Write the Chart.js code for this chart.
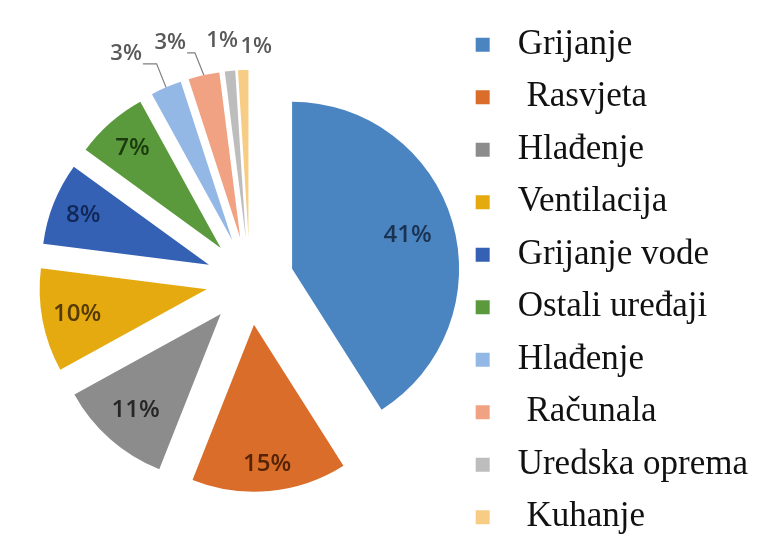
<!DOCTYPE html>
<html>
<head>
<meta charset="utf-8">
<script src="https://cdn.jsdelivr.net/npm/chart.js@4.4.1/dist/chart.umd.min.js"></script>
<style>
  html, body { margin: 0; padding: 0; background: #fff; }
  #wrap { width: 763px; height: 535px; overflow: hidden; }
</style>
</head>
<body>
<div id="wrap"><canvas id="potrosnja" width="763" height="564"></canvas></div>
<script>
// udjeli potrosnje energije po namjeni (%)
const categories = ['Grijanje', ' Rasvjeta', 'Hlađenje', 'Ventilacija', 'Grijanje vode',
    'Ostali uređaji', 'Hlađenje', ' Računala', 'Uredska oprema', ' Kuhanje'];
const shares = [41, 15, 11, 10, 8, 7, 3, 3, 1, 1];

const sliceColors = ['#4b85c1', '#d96d29', '#8c8c8c', '#e4aa10', '#3461b4',
    '#5a9a3c', '#93b8e6', '#f0a282', '#bdbdbd', '#f7cc85'];
const labelColors = ['#1a3352', '#552405', '#262626', '#553b00', '#112858', '#1b3b0f'];

const EXPLODE = 44;
// polozaj natpisa unutar isjecka (udio radijusa)
const insideAt = [0.72, 0.84, 0.77, 0.79, 0.81, 0.8];
// pomak vanjskih natpisa [dx, dy]
const outsideNudge = [[-28, -6], [-27, -3], [-5, 0], [14, 7]];

const explode = {
    id: 'explode',
    afterDatasetUpdate(chart, args) {
        args.meta.data.forEach((arc) => {
            const mid = (arc.startAngle + arc.endAngle) / 2;
            arc.x += Math.cos(mid) * EXPLODE;
            arc.y += Math.sin(mid) * EXPLODE;
        });
    },
};

const sliceLabels = {
    id: 'sliceLabels',
    afterDatasetsDraw(chart) {
        const ctx = chart.ctx;
        const arcs = chart.getDatasetMeta(0).data;
        ctx.save();
        ctx.textAlign = 'center';
        ctx.textBaseline = 'middle';
        arcs.forEach((arc, i) => {
            const mid = (arc.startAngle + arc.endAngle) / 2;
            const cos = Math.cos(mid);
            const sin = Math.sin(mid);
            const text = shares[i] + '%';
            if (i < insideAt.length) {
                const r = arc.outerRadius * insideAt[i];
                ctx.font = '600 24px "Open Sans"';
                ctx.fillStyle = labelColors[i];
                ctx.fillText(text, arc.x + cos * r, arc.y + sin * r);
                return;
            }
            const k = i - insideAt.length;
            const tipX = arc.x + cos * arc.outerRadius;
            const tipY = arc.y + sin * arc.outerRadius;
            const lx = arc.x + cos * (arc.outerRadius + 30) + outsideNudge[k][0];
            const ly = arc.y + sin * (arc.outerRadius + 30) + outsideNudge[k][1];
            ctx.font = '600 22px "Open Sans"';
            ctx.fillStyle = '#595959';
            ctx.fillText(text, lx, ly);
            if (Math.abs(outsideNudge[k][0]) > 20) {
                const w = ctx.measureText(text).width;
                const sx = lx + w / 2 + 1;
                const sy = ly + 10;
                ctx.beginPath();
                ctx.moveTo(sx, sy);
                ctx.lineTo(tipX - (tipY - sy) * 0.4, sy);
                ctx.lineTo(tipX, tipY);
                ctx.strokeStyle = '#7f7f7f';
                ctx.lineWidth = 1.2;
                ctx.stroke();
            }
        });
        ctx.restore();
    },
};

new Chart(document.getElementById('potrosnja'), {
    type: 'pie',
    data: {
        labels: categories,
        datasets: [{
            data: shares,
            backgroundColor: sliceColors,
            borderWidth: 0,
            radius: 167,
            clip: false,
        }],
    },
    options: {
        responsive: false,
        animation: false,
        devicePixelRatio: 1,
        layout: { padding: { left: 52, right: 5, top: 0, bottom: 2 } },
        plugins: {
            legend: {
                position: 'right',
                labels: {
                    usePointStyle: true,
                    pointStyle: 'rect',
                    boxWidth: 35,
                    boxHeight: 14,
                    padding: 17.5,
                    color: '#111',
                    font: { family: '"Liberation Serif", "Times New Roman", serif', size: 35 },
                },
            },
            tooltip: { enabled: false },
        },
    },
    plugins: [explode, sliceLabels],
});
</script>
</body>
</html>
